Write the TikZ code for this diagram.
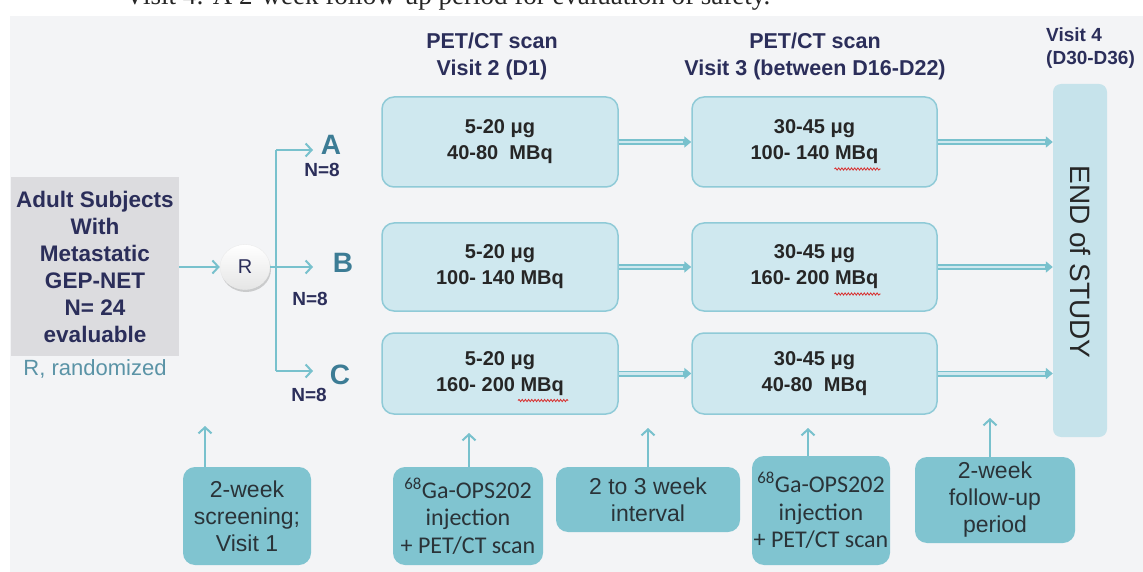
\documentclass[tikz,border=0pt]{standalone}
\usepackage{fontspec}
\setmainfont{Liberation Sans}
\newfontfamily\calib{Carlito}
\newfontfamily\tnr{Liberation Serif}
\usetikzlibrary{arrows.meta,shadows,decorations.pathmorphing,calc,shapes.geometric}
\definecolor{bgc}{HTML}{F3F4F6}
\definecolor{grayc}{HTML}{DCDCDF}
\definecolor{navy}{HTML}{2B2E5A}
\definecolor{arrc}{HTML}{78C1CD}
\definecolor{boxc}{HTML}{CFE8EF}
\definecolor{boxb}{HTML}{8FCAD7}
\definecolor{endc}{HTML}{C6E3EB}
\definecolor{botc}{HTML}{80C4D0}
\definecolor{abcc}{HTML}{3C7C95}
\definecolor{randc}{HTML}{5A93A6}
\definecolor{textd}{HTML}{2A3338}
\definecolor{wavyc}{HTML}{D83030}
\tikzset{
  hdr/.style={font=\bfseries\fontsize{21.5}{27}\selectfont, text=navy, align=center, inner sep=0},
  subjbox/.style={fill=grayc, minimum width=168, minimum height=179, inner sep=0, align=center,
    font=\bfseries\fontsize{22.5}{27}\selectfont, text=navy},
  tline/.style={draw=arrc, line width=2pt},
  tarr/.style={draw=arrc, line width=2pt, -{Straight Barb[length=6pt,width=13pt]}},
  abc/.style={font=\bfseries\fontsize{28}{32}\selectfont, text=abcc, inner sep=0},
  nlab/.style={font=\bfseries\fontsize{19}{22}\selectfont, text=navy, inner sep=0},
  mbox/.style={rounded corners=12, fill=boxc, draw=boxb, line width=1.5pt, align=center, inner sep=0,
    font=\bfseries\fontsize{20}{26}\selectfont, text=black!85},
  darr/.style={draw=arrc, line width=6pt, -{Triangle[length=7pt,width=11pt]}},
  darrin/.style={draw=boxc, line width=2.2pt, shorten >=8pt, shorten <=0.5pt},
  sbox/.style={rounded corners=12, fill=botc, align=center, inner sep=0,
    font=\fontsize{23}{27}\selectfont, text=textd},
  gabox/.style={sbox, font=\calib\fontsize{24}{27.5}\selectfont},
  wavy/.style={draw=wavyc, line width=0.8pt, decorate,
    decoration={snake, amplitude=1.1pt, segment length=3.2pt}}
}
\begin{document}
\begin{tikzpicture}[x=1pt,y=-1pt]
\useasboundingbox (0,0) rectangle (1143,572);
\fill[white] (0,0) rectangle (1143,572);
\fill[bgc] (10,16) rectangle (1143,572);
\node[anchor=base west, font=\tnr\fontsize{27}{30}\selectfont, text=black!85, inner sep=0] (toptxt) at (125,5)
  {Visit 4: A 2-week follow-up period for evaluation of safety.};

% headers
\node[hdr] (h1) at (492,56) {PET/CT scan\\Visit 2 (D1)};
\node[hdr] (h2) at (815,56) {PET/CT scan\\Visit 3 (between D16-D22)};
\node[hdr, align=left, anchor=west, font=\bfseries\fontsize{19}{23}\selectfont] (h3) at (1046,48) {Visit 4\\(D30-D36)};

% subjects
\node[subjbox] (subj) at (95,266.5) {Adult Subjects\\With\\Metastatic\\GEP-NET\\N= 24\\evaluable};
\node[text=randc, font=\fontsize{22}{26}\selectfont, inner sep=0] (rnd) at (95,369) {R, randomized};

% randomization
\node[ellipse, minimum width=50, minimum height=45, inner sep=0, top color=white, bottom color=black!10,
  draw=black!8, line width=0.4pt,
  drop shadow={shadow xshift=1pt, shadow yshift=-2.5pt, opacity=0.35},
  font=\fontsize{20}{24}\selectfont, text=navy] (R) at (245,267) {R};
\draw[tarr] (subj.east |- R.west) -- (R.west);

\coordinate (ya) at (276,150);
\coordinate (yc) at (276,371);
\coordinate (ea) at (313,150);
\coordinate (eb) at (313,267);
\coordinate (ec) at (313,371);
\draw[tline] (ya) -- (yc);
\draw[tarr] (ya) -- (ea);
\draw[tarr] (R.east) -- (eb);
\draw[tarr] (yc) -- (ec);

\node[abc] (la) at (331,145) {A};
\node[abc] (lb) at (343,263) {B};
\node[abc] (lc) at (340,375) {C};
\node[nlab] (na) at (322,170) {N=8};
\node[nlab] (nb) at (310,299) {N=8};
\node[nlab] (nc) at (309,395) {N=8};

% main boxes
\node[mbox, minimum width=236, minimum height=90] (a1) at (500,142) {5-20 μg\\40-80\ \ MBq};
\node[mbox, minimum width=245, minimum height=90] (a2) at (814.5,142) {30-45 μg\\100- 140 MBq};
\node[mbox, minimum width=236, minimum height=88] (b1) at (500,267) {5-20 μg\\100- 140 MBq};
\node[mbox, minimum width=245, minimum height=88] (b2) at (814.5,267) {30-45 μg\\160- 200 MBq};
\node[mbox, minimum width=236, minimum height=81] (c1) at (500,373.5) {5-20 μg\\160- 200 MBq};
\node[mbox, minimum width=245, minimum height=81] (c2) at (814.5,373.5) {30-45 μg\\40-80\ \ MBq};

% end of study
\node[fill=endc, rounded corners=8, minimum width=54, minimum height=353, inner sep=0] (endb) at (1080,260.5) {};
\node[rotate=-90, font=\fontsize{28}{32}\selectfont, text=black!85, inner sep=0] (endt) at (1080,262) {END of STUDY};

% double arrows
\foreach \p/\q in {a1/a2,b1/b2,c1/c2}{
  \draw[darr] (\p.east) -- (\q.west);
  \draw[darrin] (\p.east) -- (\q.west);
}
\foreach \q in {a2,b2,c2}{
  \draw[darr] (\q.east) -- (endb.west |- \q.east);
  \draw[darrin] (\q.east) -- (endb.west |- \q.east);
}

% spell-check squiggles
\draw[wavy] ($(a2.center)+(20,27)$) -- ($(a2.center)+(66,27)$);
\draw[wavy] ($(b2.center)+(20,27)$) -- ($(b2.center)+(66,27)$);
\draw[wavy] ($(c1.center)+(18,27)$) -- ($(c1.center)+(68,27)$);

% bottom boxes
\node[sbox, minimum width=128, minimum height=98] (s1) at (247,516) {2-week\\screening;\\Visit 1};
\node[gabox, minimum width=150, minimum height=98] (s2) at (468,516) {\textsuperscript{68}Ga-OPS202\\injection\\+ PET/CT scan};
\node[sbox, minimum width=184, minimum height=65] (s3) at (648,499.5) {2 to 3 week\\interval};
\node[gabox, minimum width=138, minimum height=109] (s4) at (821,510.5) {\textsuperscript{68}Ga-OPS202\\injection\\+ PET/CT scan};
\node[sbox, minimum width=160, minimum height=86] (s5) at (995,500) {2-week\\follow-up\\period};

\coordinate (t1) at (205,426);
\coordinate (t2) at (469,433);
\coordinate (t3) at (648,428);
\coordinate (t4) at (808,428);
\coordinate (t5) at (990,418);
\draw[tarr] (t1 |- s1.north) -- (t1);
\draw[tarr] (t2 |- s2.north) -- (t2);
\draw[tarr] (t3 |- s3.north) -- (t3);
\draw[tarr] (t4 |- s4.north) -- (t4);
\draw[tarr] (t5 |- s5.north) -- (t5);
\end{tikzpicture}
\end{document}
